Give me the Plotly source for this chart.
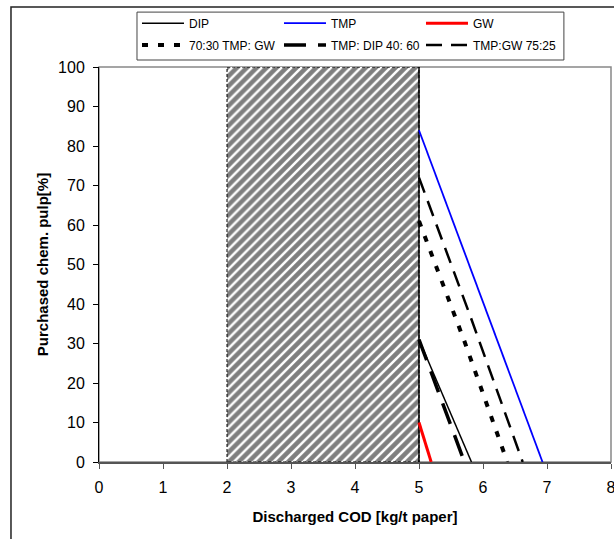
import plotly.graph_objects as go

# ---- data ----
dip_x = [5.0, 5.4, 5.82]
dip_y = [31, 16, 0]
tmp_x = [5.0, 5.55, 6.25, 6.93]
tmp_y = [84, 60, 30, 0]
gw_x = [5.0, 5.19]
gw_y = [10, 0]
tmp_gw_7030_x = [5.0, 5.7, 6.38]
tmp_gw_7030_y = [61, 31, 0]
tmp_dip_4060_x = [5.0, 5.35, 5.71]
tmp_dip_4060_y = [31, 16, 0]
tmp_gw_7525_x = [5.0, 5.8, 6.62]
tmp_gw_7525_y = [72, 37, 0]
zone_x = [2, 2, 5, 5, 2]
zone_y = [0, 100, 100, 0, 0]

x_ticks = [0, 1, 2, 3, 4, 5, 6, 7, 8]
y_ticks = [0, 10, 20, 30, 40, 50, 60, 70, 80, 90, 100]

FONT = "Liberation Sans, Arial, sans-serif"

fig = go.Figure()

# hatched zone
fig.add_trace(go.Scatter(
    x=zone_x, y=zone_y, mode="lines", fill="toself",
    fillcolor="white",
    fillpattern=dict(shape="/", fgcolor="black", bgcolor="white", size=7, solidity=0.65),
    line=dict(color="black", width=1, dash="3px,2px"),
    showlegend=False, hoverinfo="skip"))
fig.add_trace(go.Scatter(
    x=[5, 5], y=[0, 100], mode="lines", line=dict(color="black", width=1.5),
    showlegend=False, hoverinfo="skip"))

# series
fig.add_trace(go.Scatter(x=dip_x, y=dip_y, mode="lines", name="DIP",
                         line=dict(color="black", width=1.5), legend="legend"))
fig.add_trace(go.Scatter(x=tmp_x, y=tmp_y, mode="lines", name="TMP",
                         line=dict(color="#0000ff", width=1.8), legend="legend"))
fig.add_trace(go.Scatter(x=gw_x, y=gw_y, mode="lines", name="GW",
                         line=dict(color="#ff0000", width=3), legend="legend"))
fig.add_trace(go.Scatter(x=tmp_gw_7030_x, y=tmp_gw_7030_y, mode="lines", name="70:30 TMP: GW",
                         line=dict(color="black", width=4, dash="6px,10px"), legend="legend2"))
fig.add_trace(go.Scatter(x=tmp_dip_4060_x, y=tmp_dip_4060_y, mode="lines", name="TMP: DIP 40: 60",
                         line=dict(color="black", width=3.5, dash="22px,12px"), legend="legend2"))
fig.add_trace(go.Scatter(x=tmp_gw_7525_x, y=tmp_gw_7525_y, mode="lines", name="TMP:GW 75:25",
                         line=dict(color="black", width=2.5, dash="16px,9px"), legend="legend2"))

leg_common = dict(orientation="h", xref="paper", yref="paper", xanchor="left",
                  yanchor="middle", bgcolor="rgba(0,0,0,0)", borderwidth=0,
                  itemwidth=42, entrywidth=85, entrywidthmode="pixels",
                  font=dict(family=FONT, size=12, color="black"), tracegroupgap=0)

fig.update_layout(
    width=614, height=539,
    margin=dict(l=99, r=3, t=67, b=77, autoexpand=False),
    paper_bgcolor="white", plot_bgcolor="white",
    font=dict(family=FONT, color="black"),
    legend=dict(x=0.0742, y=1.111, **leg_common),
    legend2=dict(x=0.0742, y=1.0557, **leg_common),
    xaxis=dict(range=[0, 8], tickvals=x_ticks, ticktext=[str(v) for v in x_ticks],
               showgrid=False, zeroline=False, showline=True, linecolor="#555555", linewidth=1.5,
               ticks="outside", ticklen=5, tickcolor="#555555", ticklabelstandoff=5,
               ticklabeloverflow="allow",
               tickfont=dict(family=FONT, size=16, color="black"),
               title=dict(text="<b>Discharged COD [kg/t paper]</b>",
                          font=dict(family=FONT, size=15, color="black"), standoff=17)),
    yaxis=dict(range=[0, 100], tickvals=y_ticks, ticktext=[str(v) for v in y_ticks],
               showgrid=False, zeroline=False, showline=True, linecolor="black", linewidth=1,
               ticks="outside", ticklen=5, tickcolor="black", ticklabelstandoff=5,
               ticklabeloverflow="allow",
               tickfont=dict(family=FONT, size=16, color="black"),
               title=dict(text="<b>Purchased chem. pulp[%]</b>",
                          font=dict(family=FONT, size=15, color="black"), standoff=5)),
    shapes=[
        dict(type="rect", xref="paper", yref="paper", x0=0, x1=1, y0=0, y1=1,
             line=dict(color="#888888", width=1.5), layer="below"),
        dict(type="rect", xref="paper", yref="paper", x0=0.0742, x1=0.908, y0=1.0177, y1=1.139,
             line=dict(color="#444444", width=1)),
        dict(type="rect", xref="paper", yref="paper", x0=-0.1719, x1=1.2, y0=-0.4, y1=1.1519,
             line=dict(color="#222222", width=1.5)),
    ],
)

fig.write_html("out.html", config={"displayModeBar": False},
               post_script="document.body.style.margin='0px';")
